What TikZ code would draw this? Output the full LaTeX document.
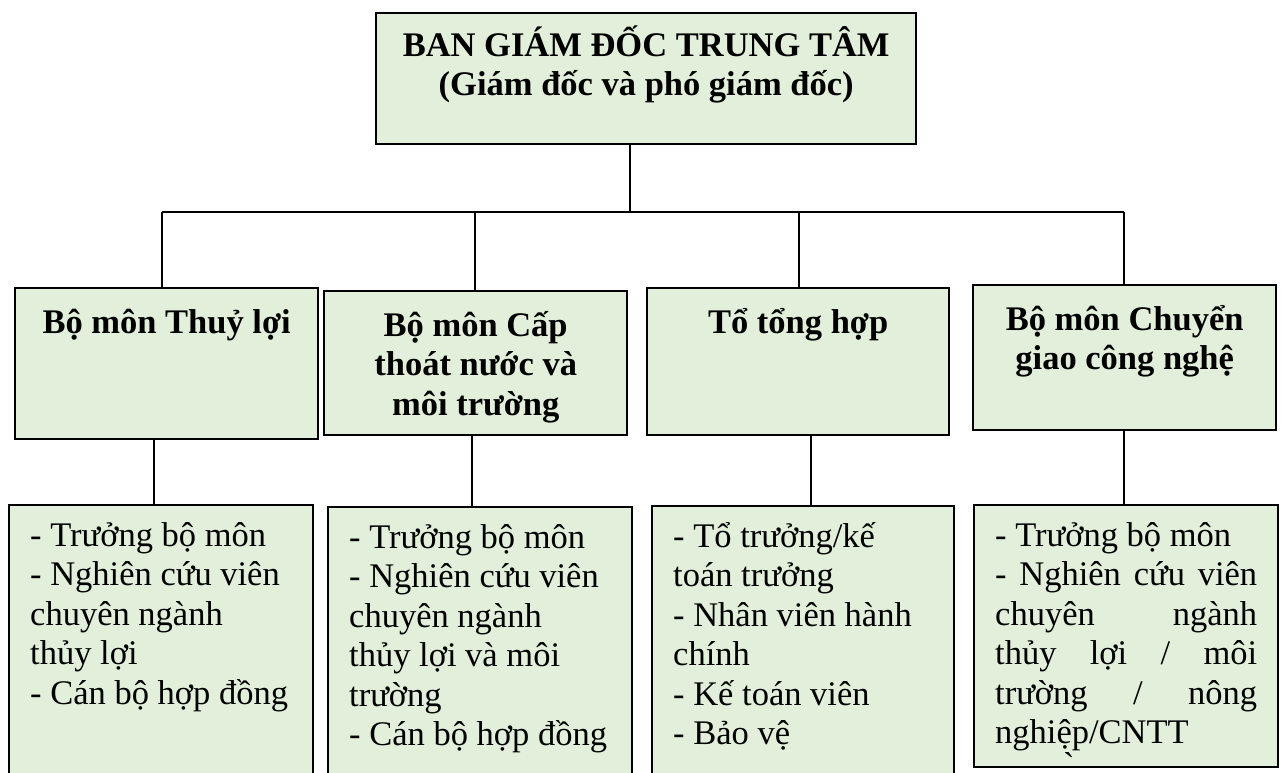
\documentclass[tikz,border=0pt]{standalone}
\usepackage{fontspec}
\setmainfont{Liberation Serif}
\newfontfamily\gravefont{Liberation Serif}
\usepackage{xcolor}
\definecolor{boxgreen}{HTML}{E2EFDA}
\newcommand{\firstline}{\rule{0pt}{36pt}}

\begin{document}
\begin{tikzpicture}[
  x=1pt, y=-1pt,
  every node/.style={anchor=north west, draw=black, fill=boxgreen, line width=2.4pt},
  head/.style={inner xsep=0pt, inner ysep=7pt, font=\bfseries\fontsize{34.5}{39}\selectfont},
  unit/.style={inner xsep=5pt, inner ysep=9pt, font=\bfseries\fontsize{34.5}{39.5}\selectfont},
  staff/.style={inner xsep=21pt, inner ysep=5pt, font=\fontsize{34.5}{39.5}\selectfont},
  link/.style={line width=2pt}
]
\useasboundingbox (0,0) rectangle (1285,772);
\clip (0,0) rectangle (1285,772);

\node[head] (head) at (375,12) {\parbox[t][117pt][t]{540pt}{\centering\firstline BAN GIÁM ĐỐC TRUNG TÂM\\(Giám đốc và phó giám đốc)}};

% bo mon / to
\node[unit] (thuyloi) at (14,287) {\parbox[t][133pt][t]{293pt}{\centering\firstline Bộ môn Thuỷ lợi}};
\node[unit] (capthoat) at (323,290) {\parbox[t][126pt][t]{293pt}{\centering\firstline Bộ môn Cấp\\thoát nước và\\môi trường}};
\node[unit] (tonghop) at (646,287) {\parbox[t][129pt][t]{292pt}{\centering\firstline Tổ tổng hợp}};
\node[unit] (chuyengiao) at (972,284) {\parbox[t][127pt][t]{293pt}{\centering\firstline Bộ môn Chuyển\\giao công nghệ}};

% nhan su
\node[staff] (nsthuyloi) at (8,504) {\parbox[t][276pt][t]{262pt}{\raggedright\firstline - Trưởng bộ môn\\- Nghiên cứu viên\\chuyên ngành\\thủy lợi\\- Cán bộ hợp đồng}};
\node[staff] (nscapthoat) at (327,506) {\parbox[t][274pt][t]{262pt}{\raggedright\firstline - Trưởng bộ môn\\- Nghiên cứu viên\\chuyên ngành\\thủy lợi và môi\\trường\\- Cán bộ hợp đồng}};
\node[staff] (nstonghop) at (651,505) {\parbox[t][275pt][t]{260pt}{\raggedright\firstline - Tổ trưởng/kế\\toán trưởng\\- Nhân viên hành\\chính\\- Kế toán viên\\- Bảo vệ}};
\node[staff] (nschuyengiao) at (973,504) {\parbox[t][252pt][t]{262pt}{\raggedright\firstline - Trưởng bộ môn\\\makebox[\linewidth][s]{- Nghiên cứu viên}\\\makebox[\linewidth][s]{chuyên ngành}\\\makebox[\linewidth][s]{thủy lợi / môi}\\\makebox[\linewidth][s]{trường / nông}\\nghiệp/CNTT\\[-6.5pt]\hspace*{68pt}{\gravefont\symbol{"60}}}};

\coordinate (busL) at (162,212);
\coordinate (busM) at (630,212);
\coordinate (busR) at (1124,212);
\coordinate (drop2) at (475,212);
\coordinate (drop3) at (799,212);
\coordinate (stem1) at (154,0);
\coordinate (stem2) at (472,0);
\coordinate (stem3) at (811,0);
\coordinate (stem4) at (1124,0);

\draw[link] (head.south -| busM) -- (busM);
\draw[link] (busL) -- (busR);
\draw[link] (busL) -- (thuyloi.north -| busL);
\draw[link] (drop2) -- (capthoat.north -| drop2);
\draw[link] (drop3) -- (tonghop.north -| drop3);
\draw[link] (busR) -- (chuyengiao.north -| busR);

\draw[link] (thuyloi.south -| stem1) -- (nsthuyloi.north -| stem1);
\draw[link] (capthoat.south -| stem2) -- (nscapthoat.north -| stem2);
\draw[link] (tonghop.south -| stem3) -- (nstonghop.north -| stem3);
\draw[link] (chuyengiao.south -| stem4) -- (nschuyengiao.north -| stem4);
\end{tikzpicture}
\end{document}
